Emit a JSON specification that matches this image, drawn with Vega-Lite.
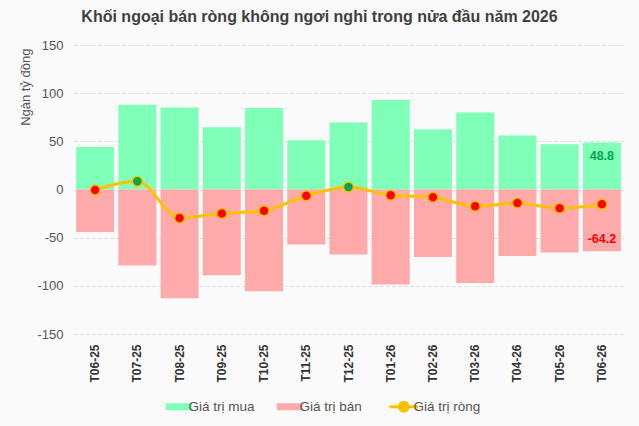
{
  "$schema": "https://vega.github.io/schema/vega-lite/v6.json",
  "width": 549,
  "height": 289,
  "autosize": "none",
  "padding": {"left": 74, "top": 45, "right": 16, "bottom": 92},
  "background": "#fafafa",
  "config": {
    "view": {"stroke": null},
    "font": "Liberation Sans",
    "locale": {
      "number": {"decimal": ".", "thousands": ",", "grouping": [3], "currency": ["", ""], "minus": "-"}
    }
  },
  "title": {
    "text": "Khối ngoại bán ròng không ngơi nghỉ trong nửa đầu năm 2026",
    "fontSize": 16,
    "fontWeight": "bold",
    "color": "#404040",
    "anchor": "middle",
    "dx": -29,
    "offset": 14
  },
  "data": {
    "values": [
      {"thang": "T06-25", "loai": "Giá trị mua", "gia_tri": 44},
      {"thang": "T07-25", "loai": "Giá trị mua", "gia_tri": 88},
      {"thang": "T08-25", "loai": "Giá trị mua", "gia_tri": 85},
      {"thang": "T09-25", "loai": "Giá trị mua", "gia_tri": 64.5},
      {"thang": "T10-25", "loai": "Giá trị mua", "gia_tri": 84.5},
      {"thang": "T11-25", "loai": "Giá trị mua", "gia_tri": 51},
      {"thang": "T12-25", "loai": "Giá trị mua", "gia_tri": 69.5},
      {"thang": "T01-26", "loai": "Giá trị mua", "gia_tri": 93},
      {"thang": "T02-26", "loai": "Giá trị mua", "gia_tri": 62.5},
      {"thang": "T03-26", "loai": "Giá trị mua", "gia_tri": 80},
      {"thang": "T04-26", "loai": "Giá trị mua", "gia_tri": 56},
      {"thang": "T05-26", "loai": "Giá trị mua", "gia_tri": 47},
      {"thang": "T06-26", "loai": "Giá trị mua", "gia_tri": 48.8},
      {"thang": "T06-25", "loai": "Giá trị bán", "gia_tri": -44},
      {"thang": "T07-25", "loai": "Giá trị bán", "gia_tri": -79},
      {"thang": "T08-25", "loai": "Giá trị bán", "gia_tri": -113},
      {"thang": "T09-25", "loai": "Giá trị bán", "gia_tri": -89},
      {"thang": "T10-25", "loai": "Giá trị bán", "gia_tri": -105.5},
      {"thang": "T11-25", "loai": "Giá trị bán", "gia_tri": -57},
      {"thang": "T12-25", "loai": "Giá trị bán", "gia_tri": -67.5},
      {"thang": "T01-26", "loai": "Giá trị bán", "gia_tri": -98.5},
      {"thang": "T02-26", "loai": "Giá trị bán", "gia_tri": -70},
      {"thang": "T03-26", "loai": "Giá trị bán", "gia_tri": -97},
      {"thang": "T04-26", "loai": "Giá trị bán", "gia_tri": -69},
      {"thang": "T05-26", "loai": "Giá trị bán", "gia_tri": -65.5},
      {"thang": "T06-26", "loai": "Giá trị bán", "gia_tri": -64.2},
      {"thang": "T06-25", "loai": "Giá trị ròng", "gia_tri": -0.5},
      {"thang": "T07-25", "loai": "Giá trị ròng", "gia_tri": 8.5},
      {"thang": "T08-25", "loai": "Giá trị ròng", "gia_tri": -29.5},
      {"thang": "T09-25", "loai": "Giá trị ròng", "gia_tri": -25},
      {"thang": "T10-25", "loai": "Giá trị ròng", "gia_tri": -22},
      {"thang": "T11-25", "loai": "Giá trị ròng", "gia_tri": -6.5},
      {"thang": "T12-25", "loai": "Giá trị ròng", "gia_tri": 2.5},
      {"thang": "T01-26", "loai": "Giá trị ròng", "gia_tri": -6},
      {"thang": "T02-26", "loai": "Giá trị ròng", "gia_tri": -8},
      {"thang": "T03-26", "loai": "Giá trị ròng", "gia_tri": -17.5},
      {"thang": "T04-26", "loai": "Giá trị ròng", "gia_tri": -14},
      {"thang": "T05-26", "loai": "Giá trị ròng", "gia_tri": -19.5},
      {"thang": "T06-26", "loai": "Giá trị ròng", "gia_tri": -15.4}
    ]
  },
  "encoding": {
    "x": {
      "field": "thang",
      "type": "nominal",
      "sort": null,
      "scale": {"paddingInner": 0.1, "paddingOuter": 0.05},
      "axis": {
        "title": null,
        "labelAngle": -90,
        "labelFontSize": 12,
        "labelFontWeight": "bold",
        "labelColor": "#333333",
        "labelPadding": 10,
        "ticks": false,
        "domain": false,
        "grid": false
      }
    },
    "y": {
      "field": "gia_tri",
      "type": "quantitative",
      "stack": null,
      "scale": {"domain": [-150, 150], "nice": false},
      "axis": {
        "title": "Ngàn tỷ đồng",
        "titleAnchor": "end",
        "titleX": -42,
        "titleY": 3,
        "titleFontSize": 13,
        "titleFontWeight": "normal",
        "titleColor": "#555555",
        "values": [-150, -100, -50, 0, 50, 100, 150],
        "labelFontSize": 13,
        "labelColor": "#555555",
        "labelPadding": 11,
        "ticks": false,
        "domain": false,
        "gridColor": "#d9d9d9",
        "gridDash": [3, 3]
      }
    }
  },
  "layer": [
    {
      "transform": [{"filter": "datum.loai !== 'Giá trị ròng'"}],
      "mark": {"type": "bar"},
      "encoding": {
        "color": {
          "field": "loai",
          "type": "nominal",
          "scale": {
            "domain": ["Giá trị mua", "Giá trị bán", "Giá trị ròng"],
            "range": ["#80ffb8", "#ffaaaa", "#ffc000"]
          },
          "legend": {
            "title": null,
            "orient": "none",
            "legendX": 98,
            "legendY": 355,
            "direction": "horizontal",
            "gridAlign": "none",
            "symbolSize": 676,
            "labelFontSize": 13.5,
            "labelColor": "#555555",
            "labelOffset": 3,
            "columnPadding": 21,
            "encode": {
              "symbols": {
                "update": {
                  "shape": {"signal": "datum.value === 'Giá trị ròng' ? 'M-1.1,0H1.1M0.34,0A0.34,0.34 0 1,1 -0.34,0A0.34,0.34 0 1,1 0.34,0Z' : 'M-1,-0.27H1V0.27H-1Z'"},
                  "fill": {"signal": "datum.value === 'Giá trị ròng' ? '#ff0000' : (datum.value === 'Giá trị mua' ? '#80ffb8' : '#ffaaaa')"},
                  "stroke": {"signal": "datum.value === 'Giá trị ròng' ? '#ffc000' : 'transparent'"},
                  "strokeWidth": {"signal": "datum.value === 'Giá trị ròng' ? 3 : 0"},
                  "opacity": {"value": 1},
                  "fillOpacity": {"value": 1}
                }
              }
            }
          }
        }
      }
    },
    {
      "transform": [{"filter": "datum.loai === 'Giá trị ròng'"}],
      "mark": {"type": "line", "interpolate": "monotone", "strokeWidth": 3},
      "encoding": {
        "color": {"field": "loai", "type": "nominal"}
      }
    },
    {
      "transform": [{"filter": "datum.loai === 'Giá trị ròng'"}],
      "mark": {"type": "point", "filled": true, "size": 100, "stroke": "#ffc000", "strokeWidth": 1.5, "opacity": 1},
      "encoding": {
        "fill": {
          "condition": {"test": "datum.gia_tri > 0", "value": "#00a651"},
          "value": "#ff0000"
        }
      }
    },
    {
      "transform": [{"filter": "datum.thang === 'T06-26' && datum.loai === 'Giá trị mua'"}],
      "mark": {"type": "text", "dy": 14, "fontSize": 12.5, "fontWeight": "bold", "color": "#00a651"},
      "encoding": {"text": {"field": "gia_tri", "type": "quantitative", "format": ".1f"}}
    },
    {
      "transform": [{"filter": "datum.thang === 'T06-26' && datum.loai === 'Giá trị bán'"}],
      "mark": {"type": "text", "dy": -12, "fontSize": 12.5, "fontWeight": "bold", "color": "#ff0000"},
      "encoding": {"text": {"field": "gia_tri", "type": "quantitative", "format": ".1f"}}
    }
  ]
}
